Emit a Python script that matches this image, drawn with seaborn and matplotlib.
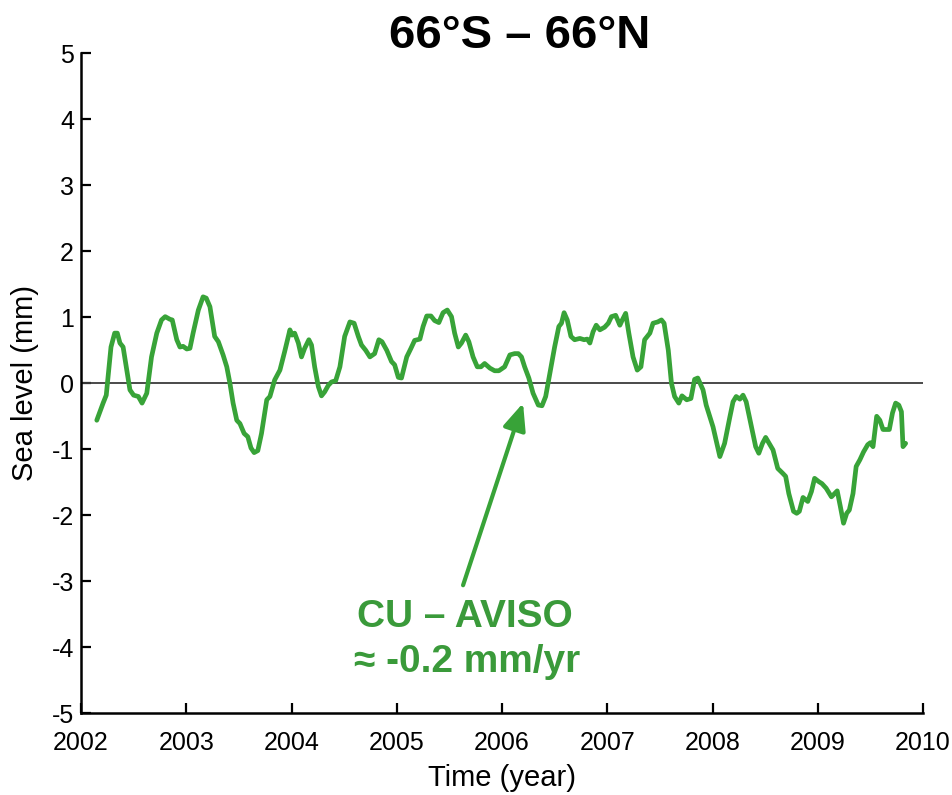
import matplotlib
matplotlib.use("Agg")
import matplotlib.pyplot as plt
import seaborn as sns
import pandas as pd

# Global mean sea level anomaly, CU - AVISO, 66S-66N
years = [
    2002.15, 2002.21, 2002.24, 2002.285, 2002.32, 2002.345, 2002.37, 2002.40, 2002.43, 2002.465,
    2002.50, 2002.545, 2002.58, 2002.625, 2002.67, 2002.72, 2002.765, 2002.80, 2002.845, 2002.867,
    2002.91, 2002.94, 2002.97,
    2003.005, 2003.035, 2003.065, 2003.115, 2003.16, 2003.19, 2003.225, 2003.27, 2003.305, 2003.35,
    2003.385, 2003.415, 2003.445, 2003.48, 2003.51, 2003.55, 2003.585, 2003.615, 2003.645, 2003.68,
    2003.715, 2003.765, 2003.795, 2003.84, 2003.89, 2003.935, 2003.985,
    2004.005, 2004.03, 2004.065, 2004.095, 2004.125, 2004.165, 2004.19, 2004.22, 2004.255, 2004.285,
    2004.315, 2004.35, 2004.38, 2004.42, 2004.46, 2004.505, 2004.555, 2004.595, 2004.635, 2004.665,
    2004.705, 2004.745, 2004.79, 2004.83, 2004.86, 2004.905, 2004.95, 2004.98,
    2005.015, 2005.045, 2005.095, 2005.135, 2005.17, 2005.22, 2005.25, 2005.285, 2005.325, 2005.36,
    2005.40, 2005.44, 2005.48, 2005.52, 2005.55, 2005.585, 2005.615, 2005.655, 2005.685, 2005.725,
    2005.765, 2005.80, 2005.835, 2005.885, 2005.93, 2005.97,
    2006.025, 2006.075, 2006.12, 2006.155, 2006.185, 2006.215, 2006.255, 2006.295, 2006.345, 2006.38,
    2006.415, 2006.455, 2006.50, 2006.54, 2006.565, 2006.59, 2006.62, 2006.655, 2006.69, 2006.74,
    2006.78, 2006.81, 2006.835, 2006.865, 2006.895, 2006.93, 2006.975,
    2007.01, 2007.04, 2007.08, 2007.12, 2007.14, 2007.175, 2007.205, 2007.245, 2007.285, 2007.32,
    2007.355, 2007.405, 2007.435, 2007.48, 2007.515, 2007.54, 2007.58, 2007.61, 2007.64, 2007.68,
    2007.71, 2007.755, 2007.795, 2007.83, 2007.86, 2007.91, 2007.94,
    2008.005, 2008.07, 2008.115, 2008.165, 2008.195, 2008.225, 2008.26, 2008.29, 2008.32, 2008.37,
    2008.41, 2008.44, 2008.475, 2008.505, 2008.545, 2008.575, 2008.62, 2008.665, 2008.695, 2008.725,
    2008.77, 2008.80, 2008.825, 2008.86, 2008.905, 2008.94, 2008.97,
    2009.01, 2009.04, 2009.08, 2009.13, 2009.16, 2009.185, 2009.215, 2009.245, 2009.275, 2009.30,
    2009.335, 2009.365, 2009.40, 2009.435, 2009.475, 2009.50, 2009.525, 2009.56, 2009.59, 2009.62,
    2009.68, 2009.71, 2009.74, 2009.77, 2009.795, 2009.81, 2009.835,
]

sea_level = [
    -0.56, -0.30, -0.18, 0.55, 0.76, 0.76, 0.61, 0.55, 0.25, -0.10,
    -0.18, -0.20, -0.30, -0.15, 0.40, 0.76, 0.96, 1.01, 0.97, 0.96,
    0.66, 0.55, 0.56,
    0.52, 0.53, 0.76, 1.11, 1.31, 1.29, 1.16, 0.71, 0.63, 0.43,
    0.25, 0.00, -0.30, -0.56, -0.61, -0.76, -0.81, -0.98, -1.05, -1.02,
    -0.76, -0.25, -0.20, 0.05, 0.20, 0.48, 0.81,
    0.73, 0.76, 0.61, 0.40, 0.53, 0.66, 0.58, 0.25, -0.05, -0.19,
    -0.13, -0.03, 0.02, 0.04, 0.25, 0.71, 0.93, 0.91, 0.71, 0.58,
    0.50, 0.40, 0.45, 0.66, 0.63, 0.50, 0.33, 0.28,
    0.09, 0.08, 0.40, 0.53, 0.65, 0.67, 0.86, 1.02, 1.02, 0.95,
    0.92, 1.07, 1.11, 1.01, 0.76, 0.55, 0.61, 0.73, 0.63, 0.40,
    0.25, 0.25, 0.30, 0.23, 0.19, 0.19,
    0.25, 0.43, 0.45, 0.45, 0.40, 0.25, 0.08, -0.15, -0.33, -0.34,
    -0.20, 0.15, 0.55, 0.86, 0.91, 1.07, 0.96, 0.71, 0.66, 0.68,
    0.66, 0.67, 0.61, 0.78, 0.88, 0.81, 0.85,
    0.91, 1.01, 1.03, 0.88, 0.95, 1.06, 0.76, 0.40, 0.20, 0.25,
    0.66, 0.76, 0.91, 0.93, 0.96, 0.91, 0.50, 0.00, -0.20, -0.30,
    -0.19, -0.25, -0.23, 0.06, 0.08, -0.10, -0.33,
    -0.66, -1.11, -0.91, -0.51, -0.28, -0.20, -0.24, -0.18, -0.28, -0.66,
    -0.96, -1.06, -0.91, -0.82, -0.93, -1.01, -1.29, -1.36, -1.41, -1.67,
    -1.94, -1.97, -1.94, -1.73, -1.79, -1.64, -1.44,
    -1.49, -1.52, -1.59, -1.72, -1.67, -1.63, -1.87, -2.12, -1.97, -1.92,
    -1.67, -1.26, -1.16, -1.04, -0.93, -0.90, -0.96, -0.50, -0.56, -0.70,
    -0.70, -0.45, -0.30, -0.33, -0.43, -0.96, -0.91,
]

x_ticks = list(range(2002, 2011))
y_ticks = list(range(-5, 6))

title = "66°S – 66°N"
label_name = "CU – AVISO"
label_rate = "≈ -0.2 mm/yr"

line_green = "#38a338"
text_green = "#3a9a3a"

sns.set_theme(style="ticks")
plt.rcParams["font.family"] = ["Liberation Sans", "DejaVu Sans"]
plt.rcParams["text.color"] = "black"
plt.rcParams["axes.labelcolor"] = "black"
plt.rcParams["xtick.color"] = "black"
plt.rcParams["ytick.color"] = "black"

fig = plt.figure(figsize=(9.52, 7.95), dpi=100)
ax = fig.add_axes([81 / 952, 1 - 713.3 / 795, (923 - 81) / 952, (713.3 - 53.3) / 795])

df = pd.DataFrame({"Time": years, "Sea level": sea_level})

ax.axhline(0, color="#3c3c3c", lw=1.3, zorder=1)
sns.lineplot(data=df, x="Time", y="Sea level", ax=ax, color=line_green,
             lw=3.4, estimator=None, zorder=2)

ax.set_xlim(2002, 2010)
ax.set_ylim(-5, 5)
ax.set_xticks(x_ticks)
ax.set_xticklabels([str(t) for t in x_ticks])
ax.set_yticks(y_ticks)
ax.set_yticklabels([str(t) for t in y_ticks])

sns.despine(ax=ax)
for side in ("left", "bottom"):
    ax.spines[side].set_linewidth(1.8)
    ax.spines[side].set_color("black")

ax.tick_params(direction="in", length=7, width=1.6, labelsize=18)
ax.tick_params(axis="x", pad=13)
ax.tick_params(axis="y", pad=5)
ax.set_xlabel("Time (year)", fontsize=21, labelpad=6)
ax.set_ylabel("Sea level (mm)", fontsize=21, labelpad=9)

fig.text(520 / 952, 1 - 48 / 795, title, ha="center", va="baseline",
         fontsize=34, fontweight="bold")

ax.annotate("", xy=(2006.2, -0.30), xytext=(2005.63, -3.06),
            arrowprops=dict(arrowstyle="-|>,head_length=0.65,head_width=0.28",
                            color=line_green, lw=3, mutation_scale=25,
                            shrinkA=0, shrinkB=0))
ax.text(2005.65, -3.69, label_name, ha="center", va="baseline",
        fontsize=28, fontweight="bold", color=text_green)
ax.text(2005.67, -4.37, label_rate, ha="center", va="baseline",
        fontsize=28, fontweight="bold", color=text_green)

fig.savefig("out.png", dpi=100)
